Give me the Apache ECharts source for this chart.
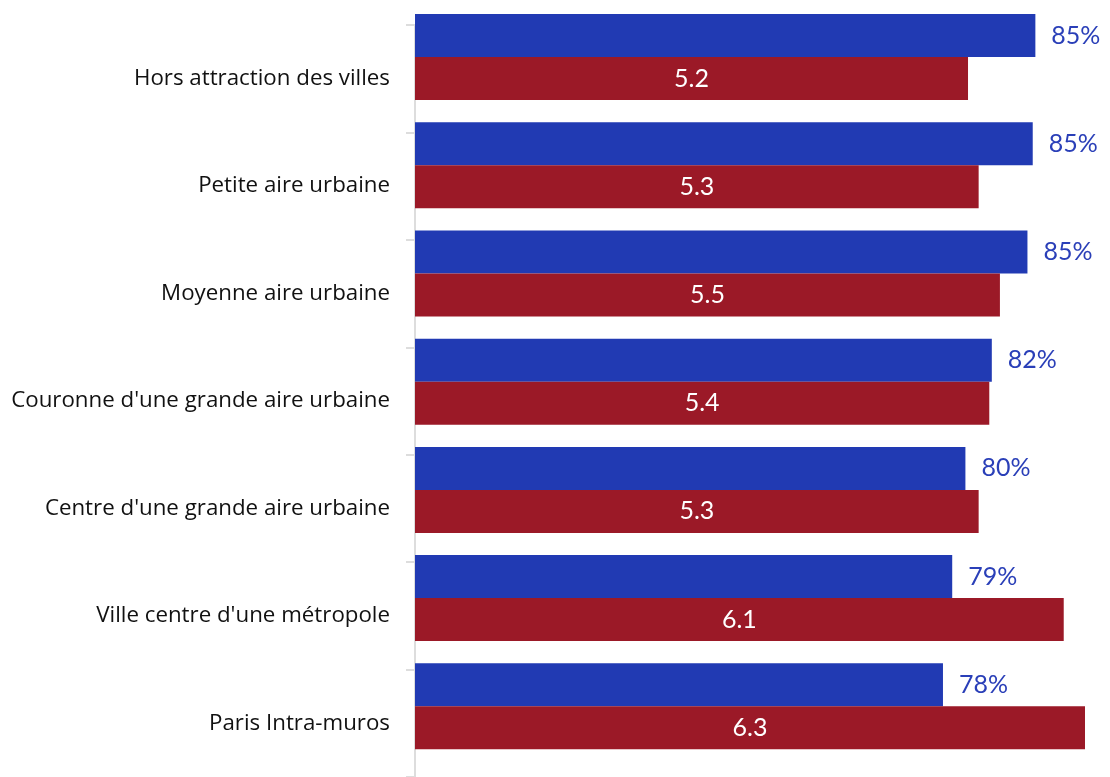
<!DOCTYPE html>
<html>
<head>
<meta charset="utf-8">
<script src="https://cdn.jsdelivr.net/npm/echarts@6/dist/echarts.min.js"></script>
<style>
html,body{margin:0;padding:0;background:#fff;}
#chart{width:1110px;height:777px;}
</style>
</head>
<body>
<div id="chart"></div>
<script>
// Categories, top to bottom
const categories = [
  "Hors attraction des villes",
  "Petite aire urbaine",
  "Moyenne aire urbaine",
  "Couronne d'une grande aire urbaine",
  "Centre d'une grande aire urbaine",
  "Ville centre d'une métropole",
  "Paris Intra-muros"
];
// Blue series (percent; labels rounded)
const shareValues = [85.3, 85.1, 84.7, 82.0, 80.0, 79.0, 78.3];
// Red series
const scoreValues = [5.2, 5.3, 5.5, 5.4, 5.3, 6.1, 6.3];

const FONT = 'Lato, "Noto Sans", sans-serif';
const LABEL_FONT = '"Open Sans", Lato, sans-serif';
const BLUE = '#213ab3';
const RED = '#9b1927';

const chart = echarts.init(document.getElementById('chart'), null, {renderer: 'canvas'});
const bandH = 108.2;
chart.setOption({
  animation: false,
  grid: [
    {left: 415, right: 25, top: 3, height: bandH * 7},
    {left: 415, right: 25, top: 25, height: bandH * 7}
  ],
  xAxis: [
    {gridIndex: 0, type: 'value', min: 0, max: 6.3, show: false},
    {gridIndex: 0, type: 'value', min: 38.3, max: 89.06, show: false},
    {gridIndex: 1, type: 'value', min: 0, max: 1, show: false}
  ],
  yAxis: [
    {gridIndex: 0, type: 'category', inverse: true, data: categories, show: false},
    {
      gridIndex: 1, type: 'category', inverse: true, data: categories,
      axisLine: {show: true, lineStyle: {color: '#dddddd', width: 2}},
      axisTick: {show: true, length: 9, lineStyle: {color: '#dddddd', width: 2}},
      axisLabel: {margin: 25, color: '#111111', fontSize: 22.3, fontFamily: LABEL_FONT},
      splitLine: {show: false}
    }
  ],
  series: [
    {
      name: 'share', type: 'bar', xAxisIndex: 1, yAxisIndex: 0,
      data: shareValues, barWidth: 43, barGap: '0%',
      itemStyle: {color: BLUE},
      label: {
        show: true, position: 'right', distance: 16,
        color: '#2a3fb8', fontSize: 25, fontFamily: FONT,
        formatter: p => Math.round(p.value) + '%'
      }
    },
    {
      name: 'score', type: 'bar', xAxisIndex: 0, yAxisIndex: 0,
      data: scoreValues, barWidth: 43, barGap: '0%',
      itemStyle: {color: RED},
      label: {
        show: true, position: 'inside',
        color: '#ffffff', fontSize: 25, fontFamily: FONT,
        formatter: p => p.value.toFixed(1)
      }
    }
  ]
});
</script>
</body>
</html>
